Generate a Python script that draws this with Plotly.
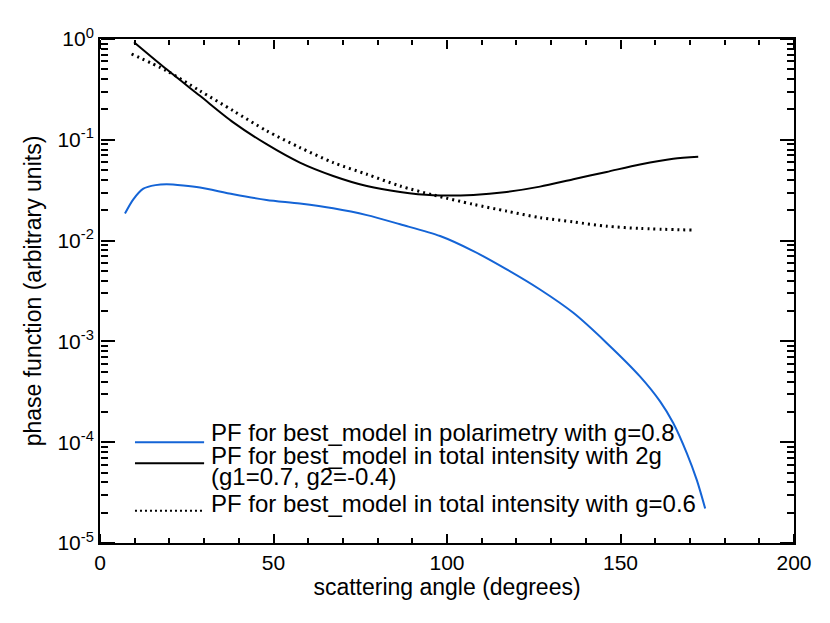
import plotly.graph_objects as go

# blue: PF for best_model in polarimetry (g=0.8)
angle_pol = [7.2, 9.6, 12.5, 16.0, 19.2, 24.0, 28.8, 38.4, 48.0, 57.6, 67.2, 76.9,
             86.5, 98.0, 107.6, 117.2, 126.8, 136.4, 146.0, 155.6, 161.4, 165.2,
             169.1, 172.0, 174.4]
pf_pol = [0.0186, 0.0257, 0.0328, 0.0355, 0.0362, 0.0352, 0.0336, 0.0288, 0.0253,
          0.0233, 0.0209, 0.0179, 0.0145, 0.0111, 0.00787, 0.00518, 0.00327,
          0.00192, 0.000966, 0.00045, 0.000254, 0.000155, 7.8e-5, 4.2e-5, 2.2e-5]

# solid black: total intensity, two-component HG (g1=0.7, g2=-0.4)
angle_2g = [9.8, 19.2, 28.8, 38.4, 48.0, 57.6, 67.2, 76.9, 86.5, 96.0, 107.6,
            117.2, 126.8, 136.4, 146.0, 155.6, 165.2, 172.4]
pf_2g = [0.93, 0.50, 0.273, 0.149, 0.0904, 0.0594, 0.0438, 0.0348, 0.0304, 0.0282,
         0.0284, 0.0304, 0.0343, 0.0406, 0.048, 0.057, 0.065, 0.068]

# dotted black: total intensity, g=0.6
angle_1g = [9.1, 19.2, 28.8, 38.4, 48.0, 57.6, 67.2, 76.9, 86.5, 96.0, 107.6,
            117.2, 126.8, 136.4, 146.0, 155.6, 171.1]
pf_1g = [0.71, 0.484, 0.306, 0.194, 0.123, 0.0838, 0.0594, 0.0455, 0.0348, 0.0284,
         0.0229, 0.0196, 0.0169, 0.0153, 0.0139, 0.0132, 0.0127]

legend_lines = [
    "PF for best_model in polarimetry with g=0.8",
    "PF for best_model in total intensity with 2g",
    "(g1=0.7, g2=-0.4)",
    "PF for best_model in total intensity with g=0.6",
]

X_RANGE = [0, 200]
Y_RANGE = [-5, 0]  # log10
x_major = [0, 50, 100, 150, 200]
x_minor = [v for v in range(0, 201, 10) if v % 50]
y_tickvals = [1e-5, 1e-4, 1e-3, 1e-2, 1e-1, 1]
y_ticktext = ["10<sup>-5</sup>", "10<sup>-4</sup>", "10<sup>-3</sup>",
              "10<sup>-2</sup>", "10<sup>-1</sup>", "10<sup>0</sup>"]
y_minor = [m * 10.0 ** e for e in range(-5, 0) for m in range(2, 10)]

FONT = "Liberation Sans, Arial, Helvetica, sans-serif"
BLUE = "#1464d6"

fig = go.Figure()
fig.add_trace(go.Scatter(
    x=angle_pol, y=pf_pol, mode="lines",
    line=dict(color=BLUE, width=2, shape="spline", smoothing=0.8),
))
fig.add_trace(go.Scatter(
    x=angle_2g, y=pf_2g, mode="lines",
    line=dict(color="black", width=2, shape="spline", smoothing=0.8),
))
fig.add_trace(go.Scatter(
    x=angle_1g, y=pf_1g, mode="lines",
    line=dict(color="black", width=3, dash="2px,4px", shape="spline", smoothing=0.8),
))

# IDL-style legend: sample line on the left, text baseline level with the line
legend_samples = [
    (0.1998, dict(color=BLUE, width=2)),
    (0.1581, dict(color="black", width=2)),
    (0.0641, dict(color="black", width=2, dash="2px,3px")),
]
for y, line in legend_samples:
    fig.add_shape(type="line", xref="paper", yref="paper",
                  x0=0.0504, x1=0.150, y0=y, y1=y, line=line)

text_y = [0.2183, 0.1736, 0.1310, 0.0784]
for text, y in zip(legend_lines, text_y):
    fig.add_annotation(text=text, xref="paper", yref="paper", x=0.1657, y=y,
                       xanchor="left", yanchor="middle", showarrow=False,
                       xshift=-6, font=dict(size=24))


# Inward ticks on all four sides: "inside" ticks do not show up here, so each
# side gets label-less free axes whose "outside" points into the plot.
def tick_axis(letter, side, position, vals, length):
    axis = dict(
        overlaying=letter, anchor="free", position=position, side=side,
        tickvals=vals, ticks="outside", ticklen=length, tickwidth=1.5,
        tickcolor="black", showticklabels=False, showline=False,
        showgrid=False, zeroline=False, fixedrange=True,
    )
    if letter == "x":
        axis["range"] = X_RANGE
    else:
        axis.update(type="log", range=Y_RANGE)
    return axis


tick_axes = {
    "xaxis2": tick_axis("x", "top", 0, x_major, 9),
    "xaxis3": tick_axis("x", "top", 0, x_minor, 5),
    "xaxis4": tick_axis("x", "bottom", 1, x_major, 9),
    "xaxis5": tick_axis("x", "bottom", 1, x_minor, 5),
    "yaxis2": tick_axis("y", "right", 0, y_tickvals, 14),
    "yaxis3": tick_axis("y", "right", 0, y_minor, 7),
    "yaxis4": tick_axis("y", "left", 1, y_tickvals, 14),
    "yaxis5": tick_axis("y", "left", 1, y_minor, 7),
}
# an axis is only drawn when a trace uses it, so each pair gets an empty trace
for n in range(2, 6):
    fig.add_trace(go.Scatter(x=[], y=[], xaxis=f"x{n}", yaxis=f"y{n}",
                             hoverinfo="skip", showlegend=False))

axis_common = dict(
    ticks="", showline=True, linecolor="black", linewidth=2, mirror=True,
    showgrid=False, zeroline=False, automargin=False,
)

# page body has an 8px margin, so the figure is shrunk to fit the window
fig.update_layout(
    width=814, height=607,
    margin=dict(l=92, r=28, t=31, b=72),
    paper_bgcolor="white", plot_bgcolor="white",
    font=dict(family=FONT, size=21, color="black"),
    showlegend=False,
    xaxis=dict(
        range=X_RANGE, tickvals=x_major,
        title=dict(text="scattering angle (degrees)", standoff=4, font=dict(size=23)),
        **axis_common,
    ),
    yaxis=dict(
        type="log", range=Y_RANGE, tickvals=y_tickvals, ticktext=y_ticktext,
        title=dict(text="phase function (arbitrary units)", standoff=9, font=dict(size=23)),
        **axis_common,
    ),
    **tick_axes,
)

fig.write_html("out.html")
